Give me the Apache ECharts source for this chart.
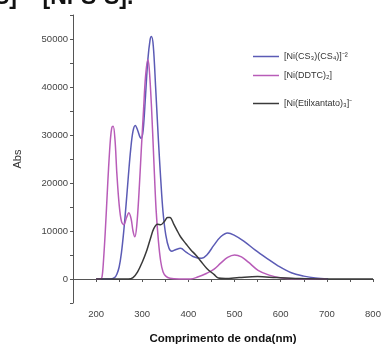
<!DOCTYPE html>
<html><head><meta charset="utf-8">
<script src="https://cdn.jsdelivr.net/npm/echarts@6/dist/echarts.min.js"></script>
<style>html,body{margin:0;padding:0;background:#fff}#c{width:388px;height:350px}</style>
</head><body><div id="c"></div>
<script>
var seriesNames = ['[Ni(CS₃)(CS₄)]⁻²', '[Ni(DDTC)₂]', '[Ni(Etilxantato)₃]⁻'];
var colors = ['#5b5bb5', '#b85cb8', '#3a3a3a'];
var xTicks = [200, 300, 400, 500, 600, 700, 800];
var yTicks = [0, 10000, 20000, 30000, 40000, 50000];

var wlBlue = [200,230,240,245,250,255,260,265,270,275,280,285,290,295,298,302,307,312,317,320,324,329,335,340,345,351,358,364,372,383,395,410,428,440,455,470,485,500,520,545,570,595,623,650,675,703];
var absBlue = [0,0,300,1000,2500,5500,10000,15500,21500,27000,30800,32000,31000,29600,29300,31000,38000,45500,49800,50500,48500,40000,29000,20900,14000,9200,6400,5800,6100,6400,5600,4700,4300,5000,7000,8800,9600,9100,7900,6000,4300,2700,1300,600,200,0];

var wlMag = [200,210,213,216,220,224,227,231,234,237,241,245,250,255,260,266,271,276,280,284,288,293,298,303,307,312,315,320,325,330,335,340,345,351,360,380,405,420,440,455,470,485,500,515,530,551,575,602,640,700];
var absMag = [0,0,500,3700,10000,17500,23000,29000,31500,31800,29000,22000,15500,12000,11300,12800,13800,12500,10000,8800,11000,18000,27000,35500,42000,45700,44000,36000,25000,14500,8000,3700,1500,600,150,0,0,400,1200,2000,3300,4500,5000,4600,3500,1800,800,200,50,0];

var wlBlk = [200,270,280,290,300,310,318,325,333,340,348,355,360,368,375,383,395,405,416,427,440,456,465,480,510,550,590,640,700,800];
var absBlk = [0,0,300,1500,3500,6000,8500,10500,11400,11300,12000,12800,12800,11500,10200,8800,7300,6100,5000,3700,2200,900,200,100,300,500,300,100,0,0];

function pairs(x, y){ return x.map(function(v,i){ return [v, y[i]]; }); }
var data = [pairs(wlBlue, absBlue), pairs(wlMag, absMag), pairs(wlBlk, absBlk)];

var chart = echarts.init(document.getElementById('c'), null, {renderer:'canvas'});
var font = 'Liberation Sans, Arial, sans-serif';
var legendTops = [47, 66, 94];
chart.setOption({
  animation: false,
  backgroundColor: '#fff',
  grid: {left: 73, right: 15, top: 15, bottom: 45},
  legend: seriesNames.map(function(n, i){
    return {data:[{name: n, icon: 'rect', itemStyle:{color: colors[i]}}], left: 248, top: legendTops[i],
      itemWidth: 26, itemHeight: 1.5, itemGap: 4,
      textStyle:{fontFamily: font, fontSize: 9, color:'#333'}};
  }),
  graphic: [{type:'text', left: -6, top: -14, style:{text:'S] – [Ni-S-S].', font:'bold 23px Liberation Sans, Arial, sans-serif', fill:'#111'}}],
  xAxis: {
    type: 'value', min: 150, max: 800, interval: 50,
    name: 'Comprimento de onda(nm)', nameLocation: 'middle', nameGap: 30,
    nameTextStyle: {fontFamily: font, fontSize: 11.5, fontWeight: 'bold', color: '#111'},
    axisLine: {lineStyle:{color:'#555', width: 1}},
    axisTick: {length: 3, lineStyle:{color:'#555'}},
    axisLabel: {fontFamily: font, fontSize: 9.5, color:'#444', margin: 6,
      formatter: function(v){ return xTicks.indexOf(v) >= 0 ? String(v) : ''; }},
    splitLine: {show:false}
  },
  yAxis: {
    type: 'value', min: -5000, max: 55000, interval: 5000,
    name: 'Abs', nameLocation: 'middle', nameGap: 50, nameRotate: 90,
    nameTextStyle: {fontFamily: font, fontSize: 11, color:'#333'},
    axisLine: {show: true, lineStyle:{color:'#555', width: 1}},
    axisTick: {show: true, length: 3, lineStyle:{color:'#555'}},
    axisLabel: {fontFamily: font, fontSize: 9.5, color:'#444', margin: 5,
      formatter: function(v){ return yTicks.indexOf(v) >= 0 ? String(v) : ''; }},
    splitLine: {show:false}
  },
  series: seriesNames.map(function(n, i){
    return {name: n, type:'line', data: data[i], smooth: 0.35, showSymbol: false, symbol:'none',
      lineStyle:{color: colors[i], width: 1.5}, itemStyle:{color: colors[i]}};
  })
});
</script></body></html>
